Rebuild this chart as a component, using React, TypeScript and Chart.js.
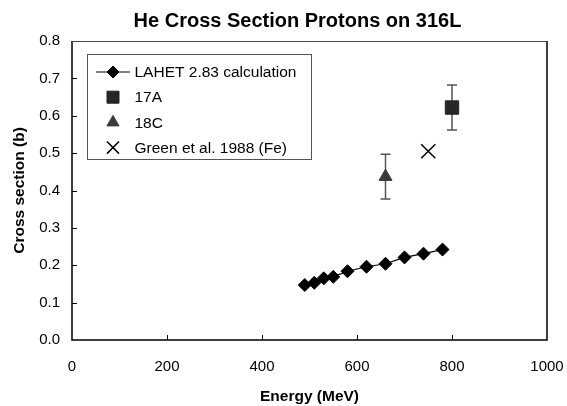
import React, { useEffect, useRef } from 'react';
import { Chart, registerables } from 'chart.js';
import { drawPoint } from 'chart.js/helpers';

Chart.register(...registerables);

// ---- data ----
const chartTitle = 'He Cross Section Protons on 316L';
const xTitle = 'Energy (MeV)';
const yTitle = 'Cross section (b)';

const lahetEnergy = [490, 510, 530, 550, 580, 620, 660, 700, 740, 780];
const lahetValue = [0.147, 0.153, 0.165, 0.169, 0.184, 0.196, 0.204, 0.221, 0.231, 0.242];

const a17Energy = [800];
const a17Value = [0.622];
const a17Error = [0.06];

const c18Energy = [660];
const c18Value = [0.437];
const c18Error = [0.06];

const greenEnergy = [750];
const greenValue = [0.505];

const seriesLabels = ['LAHET 2.83 calculation', '17A', '18C', 'Green et al. 1988 (Fe)'];

const xMin = 0, xMax = 1000, xStep = 200;
const yMin = 0, yMax = 0.8, yStep = 0.1;

const FONT = '"Liberation Sans", Arial, Helvetica, sans-serif';

const pts = (xs: number[], ys: number[]) => xs.map((x, i) => ({ x, y: ys[i] }));

const titlePlugin = {
  id: 'customTitle',
  afterDraw(chart: any) {
    const { ctx } = chart;
    ctx.save();
    ctx.font = `bold 20px ${FONT}`;
    ctx.fillStyle = '#000';
    ctx.textAlign = 'center';
    ctx.textBaseline = 'middle';
    ctx.fillText(chartTitle, 297.5, 21);
    ctx.restore();
  },
};

const framePlugin = {
  id: 'frameTicks',
  afterDraw(chart: any) {
    const { ctx, chartArea, scales } = chart;
    const { left, right, top, bottom } = chartArea;
    ctx.save();
    ctx.strokeStyle = '#000';
    ctx.lineWidth = 1;
    ctx.beginPath();
    scales.x.ticks.forEach((t: any) => {
      const px = Math.round(scales.x.getPixelForValue(t.value)) + 0.5;
      if (t.value > xMin && t.value < xMax) {
        ctx.moveTo(px, bottom);
        ctx.lineTo(px, bottom - 5);
      }
    });
    scales.y.ticks.forEach((t: any) => {
      const py = Math.round(scales.y.getPixelForValue(t.value)) + 0.5;
      if (t.value > yMin + 1e-9 && t.value < yMax - 1e-9) {
        ctx.moveTo(left, py);
        ctx.lineTo(left + 5, py);
      }
    });
    ctx.stroke();
    ctx.lineWidth = 1.5;
    ctx.strokeStyle = '#000';
    ctx.beginPath();
    ctx.moveTo(left, top);
    ctx.lineTo(left, bottom);
    ctx.lineTo(right, bottom);
    ctx.lineTo(right, top);
    ctx.stroke();
    ctx.lineWidth = 1;
    ctx.strokeStyle = '#444';
    ctx.beginPath();
    ctx.moveTo(left, top + 0.5);
    ctx.lineTo(right, top + 0.5);
    ctx.stroke();
    ctx.restore();
  },
};

const errorBarPlugin = {
  id: 'errorBars',
  beforeDatasetsDraw(chart: any) {
    const { ctx, scales } = chart;
    ctx.save();
    ctx.strokeStyle = '#555';
    ctx.lineWidth = 1.5;
    chart.data.datasets.forEach((ds: any) => {
      if (!ds.errors) return;
      ds.data.forEach((p: any, i: number) => {
        const e = ds.errors[i];
        const px = scales.x.getPixelForValue(p.x);
        const pyTop = scales.y.getPixelForValue(p.y + e);
        const pyBot = scales.y.getPixelForValue(p.y - e);
        ctx.beginPath();
        ctx.moveTo(px, pyTop);
        ctx.lineTo(px, pyBot);
        ctx.moveTo(px - 5, pyTop);
        ctx.lineTo(px + 5, pyTop);
        ctx.moveTo(px - 5, pyBot);
        ctx.lineTo(px + 5, pyBot);
        ctx.stroke();
      });
    });
    ctx.restore();
  },
};

const legendPlugin = {
  id: 'insideLegend',
  afterDraw(chart: any) {
    const { ctx, chartArea } = chart;
    const boxX = chartArea.left + 15.5;
    const boxY = chartArea.top + 13.5;
    const boxW = 224;
    const boxH = 105;
    ctx.save();
    ctx.fillStyle = '#fff';
    ctx.fillRect(boxX, boxY, boxW, boxH);
    ctx.strokeStyle = '#555';
    ctx.lineWidth = 1;
    ctx.strokeRect(boxX, boxY, boxW, boxH);
    const symX = boxX + 25.5;
    const textX = boxX + 47;
    chart.data.datasets.forEach((ds: any, i: number) => {
      const y = boxY + 17.5 + i * 25.2;
      if (ds.showLine) {
        ctx.strokeStyle = ds.borderColor;
        ctx.lineWidth = 1.2;
        ctx.beginPath();
        ctx.moveTo(symX - 17, y);
        ctx.lineTo(symX + 17, y);
        ctx.stroke();
      }
      ctx.fillStyle = ds.pointBackgroundColor;
      ctx.strokeStyle = ds.pointBorderColor;
      ctx.lineWidth = ds.pointBorderWidth;
      drawPoint(ctx, { pointStyle: ds.pointStyle, radius: ds.legendRadius, rotation: 0, borderWidth: ds.pointBorderWidth }, symX, y);
      ctx.fillStyle = '#000';
      ctx.font = `15.5px ${FONT}`;
      ctx.textAlign = 'left';
      ctx.textBaseline = 'middle';
      ctx.fillText(ds.label, textX, y + 1);
    });
    ctx.restore();
  },
};

export default function App() {
  const ref = useRef<HTMLCanvasElement | null>(null);

  useEffect(() => {
    if (!ref.current) return;
    const chart = new Chart(ref.current, {
      type: 'scatter',
      data: {
        datasets: [
          {
            label: seriesLabels[0],
            data: pts(lahetEnergy, lahetValue),
            showLine: true,
            borderColor: '#000',
            borderWidth: 1.2,
            pointStyle: 'rectRot',
            pointRadius: 6.5,
            pointBackgroundColor: '#000',
            pointBorderColor: '#000',
            pointBorderWidth: 1,
            legendRadius: 6,
          } as any,
          {
            label: seriesLabels[1],
            data: pts(a17Energy, a17Value),
            errors: a17Error,
            showLine: false,
            pointStyle: 'rect',
            pointRadius: 9.5,
            pointBackgroundColor: '#262626',
            pointBorderColor: '#262626',
            pointBorderWidth: 1,
            legendRadius: 8.5,
          } as any,
          {
            label: seriesLabels[2],
            data: pts(c18Energy, c18Value),
            errors: c18Error,
            showLine: false,
            pointStyle: 'triangle',
            pointRadius: 7.5,
            pointBackgroundColor: '#3a3a3a',
            pointBorderColor: '#3a3a3a',
            pointBorderWidth: 1,
            legendRadius: 7,
          } as any,
          {
            label: seriesLabels[3],
            data: pts(greenEnergy, greenValue),
            showLine: false,
            pointStyle: 'crossRot',
            pointRadius: 10,
            pointBackgroundColor: '#000',
            pointBorderColor: '#000',
            pointBorderWidth: 1.5,
            legendRadius: 8.5,
          } as any,
        ],
      },
      options: {
        responsive: false,
        animation: false,
        devicePixelRatio: 1,
        layout: { padding: { top: 41, right: 20, left: 0, bottom: 0 } },
        plugins: {
          legend: { display: false },
          title: { display: false },
          tooltip: { enabled: false },
        },
        scales: {
          x: {
            type: 'linear',
            min: xMin,
            max: xMax,
            afterFit: (s: any) => { s.height = 66; s.paddingLeft = 0; s.paddingRight = 0; },
            grid: { display: false, drawTicks: false },
            border: { display: false },
            ticks: {
              stepSize: xStep,
              color: '#000',
              font: { family: FONT, size: 15 },
              padding: 18,
              maxRotation: 0,
              callback: (v: any) => String(v),
            },
            title: {
              display: true,
              text: xTitle,
              color: '#000',
              font: { family: FONT, size: 15.5, weight: 'bold' },
              padding: { top: 0, bottom: 0 },
            },
          },
          y: {
            type: 'linear',
            min: yMin,
            max: yMax,
            afterFit: (s: any) => { s.width = 72; s.paddingTop = 0; s.paddingBottom = 0; },
            grid: { display: false, drawTicks: false },
            border: { display: false },
            ticks: {
              stepSize: yStep,
              color: '#000',
              font: { family: FONT, size: 15 },
              padding: 12,
              callback: (v: any) => Number(v).toFixed(1),
            },
            title: {
              display: true,
              text: yTitle,
              color: '#000',
              font: { family: FONT, size: 15.5, weight: 'bold' },
              padding: { top: 10, bottom: 0 },
            },
          },
        },
      } as any,
      plugins: [errorBarPlugin, framePlugin, legendPlugin, titlePlugin],
    });
    return () => chart.destroy();
  }, []);

  return (
    <div style={{ position: 'absolute', left: 0, top: 0, width: 567, height: 406, background: '#fff' }}>
      <canvas ref={ref} width={567} height={406} />
    </div>
  );
}
